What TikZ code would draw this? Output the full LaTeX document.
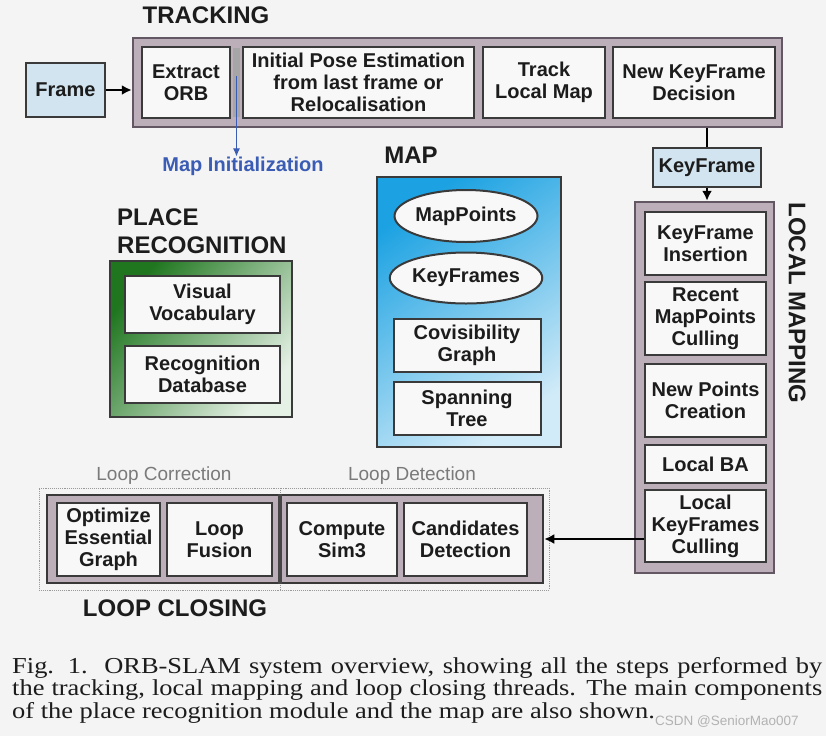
\documentclass[tikz,border=0pt]{standalone}
\usepackage{fontspec}
\setmainfont{Liberation Sans}
\newfontfamily\capfont[FakeStretch=1.16]{Liberation Serif}
\usetikzlibrary{shapes.geometric,arrows.meta,calc}
\definecolor{bg}{HTML}{F4F4F4}
\definecolor{mauve}{HTML}{BDAFBA}
\definecolor{mauvedk}{HTML}{625763}
\definecolor{boxdk}{HTML}{3A3A3A}
\definecolor{boxfill}{HTML}{F8F8F8}
\definecolor{ltblue}{HTML}{D2E4F0}
\definecolor{mapblue}{HTML}{1CA2E2}
\definecolor{mapbluelt}{HTML}{D2EBF8}
\definecolor{dkgreen}{HTML}{1F761F}
\definecolor{ltgreen}{HTML}{E6F1E6}
\definecolor{initblue}{HTML}{3A5CB4}
\definecolor{lblgrey}{HTML}{7A7A7A}
\definecolor{txt}{HTML}{1C1C1C}
\begin{document}
\begin{tikzpicture}[x=1pt,y=-1pt,
  every node/.style={font=\fontsize{20}{22}\selectfont\bfseries, text=txt, align=center, inner sep=0pt},
  stepbox/.style={rectangle, draw=boxdk, line width=2pt, fill=boxfill},
  inbox/.style={rectangle, draw=boxdk, line width=2pt, fill=ltblue},
  group/.style={rectangle, draw=mauvedk, line width=2.5pt, fill=mauve},
  lcouter/.style={rectangle, draw=gray!80, line width=0.9pt, densely dotted},
  title/.style={font=\fontsize{24}{28}\selectfont\bfseries},
  sublabel/.style={font=\fontsize{19}{22}\selectfont, text=lblgrey},
  captext/.style={anchor=base west, font=\capfont\fontsize{22.8}{24}\selectfont, text=txt},
  arr/.style={draw=black, line width=2.5pt, -{Latex[length=10pt,width=10pt]}},
  conn/.style={draw=black, line width=2.5pt},
  initarr/.style={draw=initblue, line width=1pt, -{Latex[length=8pt,width=7pt]}},
]
\fill[bg] (0,0) rectangle (826,736);
\useasboundingbox (0,0) rectangle (826,736);

% ---------------- TRACKING
\node[title] (ttrack) at (206,15) {TRACKING};
\node[group, minimum width=649, minimum height=89] (tracking) at (457.5,82.5) {};
\fill[gray!70] (233,48) rectangle (240,117);
\node[stepbox, minimum width=88, minimum height=71] (extract) at (186,82.5) {Extract\\ORB};
\node[stepbox, minimum width=231, minimum height=71] (initpose) at (358.5,82.5) {Initial Pose Estimation\\from last frame or\\Relocalisation};
\node[stepbox, minimum width=122, minimum height=71] (tlm) at (544,82.5) {Track\\Local Map};
\node[stepbox, minimum width=162, minimum height=71] (nkfd) at (694,82.5) {New KeyFrame\\Decision};
\node[inbox, minimum width=79, minimum height=54] (frame) at (65.5,90) {Frame};
\draw[arr] (frame.east) -- (frame.east -| tracking.west);

\coordinate (mistart) at (236.5,76);
\node[text=initblue] (mapinit) at (243,166) {Map Initialization};
\draw[initarr] (mistart) -- (mistart |- mapinit.north);

\node[inbox, minimum width=108, minimum height=39] (keyframe) at (707,167.5) {KeyFrame};
\draw[conn] (keyframe.north |- tracking.south) -- (keyframe.north);

% ---------------- MAP
\node[title] (tmap) at (411,155) {MAP};
\node[rectangle, draw=boxdk, line width=1.6pt, top color=mapblue, bottom color=mapbluelt, shading angle=35, minimum width=184, minimum height=270] (map) at (469,312) {};
\node[ellipse, draw=boxdk, line width=2pt, fill=boxfill, minimum width=140, minimum height=52] (mappoints) at (466,216) {MapPoints};
\node[ellipse, draw=boxdk, line width=2pt, fill=boxfill, minimum width=140, minimum height=51] (keyframes) at (466,278) {KeyFrames};
\node[stepbox, minimum width=147, minimum height=53] (covis) at (467,345.5) {Covisibility\\Graph};
\node[stepbox, minimum width=147, minimum height=53] (span) at (467,408.5) {Spanning\\Tree};

% ---------------- PLACE RECOGNITION
\node[title, anchor=west, align=left] (tplace) at (117,231) {PLACE\\RECOGNITION};
\node[rectangle, draw=boxdk, line width=1.6pt, top color=dkgreen, bottom color=ltgreen, shading angle=50, minimum width=182, minimum height=156] (place) at (201,339) {};
\node[stepbox, minimum width=155, minimum height=57] (vocab) at (202.5,304.5) {Visual\\Vocabulary};
\node[stepbox, minimum width=155, minimum height=57] (recdb) at (202.5,374.5) {Recognition\\Database};

% ---------------- LOCAL MAPPING
\node[group, minimum width=139, minimum height=371] (lm) at (704.5,387.5) {};
\node[title, rotate=-90] (tlocal) at (797,303) {LOCAL MAPPING};
\node[stepbox, minimum width=121, minimum height=63] (kfi) at (705.5,243.5) {KeyFrame\\Insertion};
\node[stepbox, minimum width=121, minimum height=73] (rmc) at (705.5,318.5) {Recent\\MapPoints\\Culling};
\node[stepbox, minimum width=121, minimum height=73] (npc) at (705.5,400.5) {New Points\\Creation};
\node[stepbox, minimum width=121, minimum height=38] (lba) at (705.5,464) {Local BA};
\node[stepbox, minimum width=121, minimum height=72] (lkfc) at (705.5,526) {Local\\KeyFrames\\Culling};
\draw[arr] (keyframe.south) -- (keyframe.south |- lm.north);

% ---------------- LOOP CLOSING
\node[sublabel] (tcorr) at (164,476) {Loop Correction};
\node[sublabel] (tdet) at (412,476) {Loop Detection};
\node[lcouter, minimum width=241, minimum height=102] (lcorr) at (159.5,539) {};
\node[lcouter, minimum width=269, minimum height=102] (ldet) at (414.5,539) {};
\node[rectangle, draw=gray!45!black, line width=2.5pt, fill=mauve, minimum width=496, minimum height=88] (lcgrey) at (295,539) {};
\draw[line width=4pt, draw=gray!55!black] (lcgrey.north -| lcorr.east) -- (lcgrey.south -| lcorr.east);
\node[stepbox, minimum width=103, minimum height=73] (opt) at (108.5,539.5) {Optimize\\Essential\\Graph};
\node[stepbox, minimum width=105, minimum height=73] (fusion) at (219.5,539.5) {Loop\\Fusion};
\node[stepbox, minimum width=110, minimum height=73] (sim3) at (342,539.5) {Compute\\Sim3};
\node[stepbox, minimum width=123, minimum height=73] (cand) at (465.5,539.5) {Candidates\\Detection};
\node[title] (tloop) at (175,608) {LOOP CLOSING};
\draw[arr] (lkfc.west |- lcgrey.east) -- (lcgrey.east);

% ---------------- Caption
\node[captext] (cap1) at (12,673) {\makebox[810pt][s]{Fig. 1.\ \ ORB-SLAM system overview, showing all the steps performed by}};
\node[captext] (cap2) at (12,695.5) {\makebox[810pt][s]{the tracking, local mapping and loop closing threads. The main components}};
\node[captext] (cap3) at (12,718) {of the place recognition module and the map are also shown.};
\node[anchor=west, font=\fontsize{13.5}{15}\selectfont, text=gray!60] (wm) at (655,722) {CSDN @SeniorMao007};
\end{tikzpicture}
\end{document}
